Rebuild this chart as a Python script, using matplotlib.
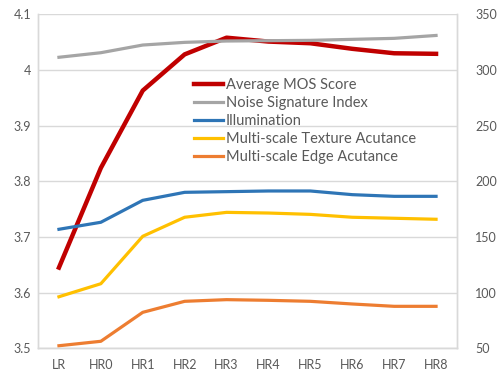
import matplotlib
matplotlib.use("Agg")
import matplotlib.pyplot as plt

categories = ["LR", "HR0", "HR1", "HR2", "HR3", "HR4", "HR5", "HR6", "HR7", "HR8"]
mos = [3.645, 3.824, 3.963, 4.028, 4.058, 4.051, 4.048, 4.038, 4.030, 4.029]
noise = [311.4, 315.5, 322.4, 324.8, 326.0, 326.3, 326.6, 327.5, 328.4, 331.0]
illum = [156.9, 163.2, 182.9, 190.1, 190.7, 191.3, 191.3, 188.0, 186.5, 186.5]
texture = [96.3, 108.0, 150.6, 167.7, 172.1, 171.5, 170.3, 167.7, 166.8, 165.9]
edge = [52.3, 56.3, 82.3, 92.2, 93.7, 93.1, 92.2, 89.8, 87.7, 87.7]
left_ticks = [3.5, 3.6, 3.7, 3.8, 3.9, 4.0, 4.1]
left_labels = ["3.5", "3.6", "3.7", "3.8", "3.9", "4", "4.1"]
right_ticks = [50, 100, 150, 200, 250, 300, 350]

plt.rcParams['font.family'] = ['Lato', 'DejaVu Sans']
txt = '#595959'
grid = '#d9d9d9'

fig = plt.figure(figsize=(5, 3.74), dpi=100)
ax = fig.add_axes([38/500, 1-348.3/374, (457-38)/500, (348.3-14.3)/374])
ax2 = ax.twinx()

x = list(range(len(categories)))
l1, = ax.plot(x, mos, color='#C00000', lw=3.2, label='Average MOS Score')
l2, = ax2.plot(x, noise, color='#A5A5A5', lw=2.3, label='Noise Signature Index')
l3, = ax2.plot(x, illum, color='#2E75B6', lw=2.3, label='Illumination')
l4, = ax2.plot(x, texture, color='#FFC000', lw=2.3, label='Multi-scale Texture Acutance')
l5, = ax2.plot(x, edge, color='#ED7D31', lw=2.3, label='Multi-scale Edge Acutance')

ax.set_xlim(-0.5, len(categories) - 0.5)
ax.set_ylim(3.5, 4.1)
ax2.set_ylim(50, 350)
ax.set_yticks(left_ticks)
ax.set_yticklabels(left_labels)
ax2.set_yticks(right_ticks)
ax.set_xticks(x)
ax.set_xticklabels(categories)
ax.grid(axis='y', color=grid, lw=1)
ax.set_axisbelow(True)

for a in (ax, ax2):
    for s in a.spines.values():
        s.set_color(grid)
        s.set_linewidth(1)
    a.spines['top'].set_visible(False)
    a.tick_params(length=0, colors=txt, labelsize=9)
ax.tick_params(axis='y', pad=5)
ax.tick_params(axis='x', pad=8)
ax2.tick_params(axis='y', pad=13)

leg = ax2.legend(handles=[l1, l2, l3, l4, l5], loc='upper left',
                 bbox_to_anchor=((199-38)/419 - 0.012, 1 - (78-14.3)/334),
                 frameon=False, fontsize=10.5, handlelength=2.0,
                 handletextpad=0.2, labelspacing=0.28, borderaxespad=0,
                 borderpad=0)
for t in leg.get_texts():
    t.set_color(txt)

fig.savefig('out.png', dpi=100)
